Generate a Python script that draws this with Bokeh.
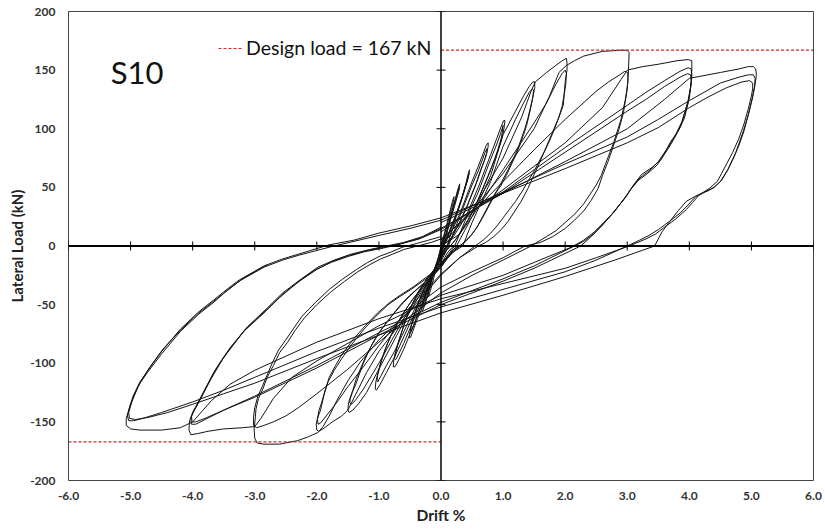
import math
from bokeh.plotting import figure
from bokeh.models import (Range1d, FixedTicker, NumeralTickFormatter, Span, Label,
                          Legend, LegendItem)
from bokeh.embed import file_html
from bokeh.resources import INLINE

# ---------------- data ----------------
x_ticks = [-6, -5, -4, -3, -2, -1, 0, 1, 2, 3, 4, 5, 6]
y_ticks = [-200, -150, -100, -50, 0, 50, 100, 150, 200]
design_load = 167
specimen = "S10"

# hysteresis paths (drift %, lateral load kN), one list per drift level
loop_500 = [(0,20),(1,45),(2,72),(3,100),(3.6,125),(4.0,143),(4.5,148),(4.8,151),(4.95,153),(5.03,153),(5.07,151),(5.08,146),(5.06,138),(5.02,127),(4.95,112),(4.87,98),(4.75,80),(4.62,65),(4.5,55),(4.4,50),(4.28,47),(4.15,43),(4.05,37),(3.95,31),(3.78,23),(3.6,16),(3.45,10),(3.3,6),(3.03,0),(2.5,-10),(2.0,-19),(1.0,-32),(0,-45),(-1,-62),(-2,-82),(-3,-106),(-3.4,-118),(-3.7,-132),(-4.0,-150),(-4.2,-155),(-4.5,-157),(-4.85,-157),(-5.0,-156),(-5.07,-153),
            (-5.07,-147),(-5.03,-140),(-4.95,-128),(-4.85,-117),(-4.73,-108),(-4.5,-92),(-4.2,-73),(-3.9,-58),(-3.66,-48),(-3.45,-38),(-3.25,-30),(-2.85,-18),(-2.55,-12),(-2.3,-8),(-1.8,-1),(-1.4,4),(-1.0,9),(-0.5,15),(0,22),
            (1,46),(2,70),(3,93),(3.5,108),(4,124),(4.5,139),(4.8,144),(4.95,146),(5.03,146),(5.06,143),(5.05,136),(5.01,125),(4.95,112),(4.88,98),(4.8,86),(4.72,76),(4.62,65),(4.52,56),(4.4,50),(4.3,47),(4.2,45),(4.1,42),(3.98,35),(3.85,28),(3.68,21),(3.5,14),(3.35,9),(3.2,5),(3.0,0),(2.5,-12),(2.0,-22),(1.0,-37),(0,-52),(-1,-70),(-2,-90),(-3,-112),(-3.5,-123),(-4,-133),(-4.5,-142),(-4.8,-147),(-4.95,-149),(-5.03,-149),(-5.05,-145),
            (-5.02,-138),(-4.96,-128),(-4.85,-116),(-4.72,-106),(-4.5,-90),(-4.2,-71),(-3.9,-56),(-3.66,-46),(-3.45,-37),(-3.25,-29),(-2.85,-17),(-2.55,-11),(-2.3,-7),(-1.8,1),(-1.4,5),(-1.0,11),(-0.5,17),(0,24),
            (1,45),(2,66),(3,88),(3.5,101),(4,118),(4.3,127),(4.6,135),(4.85,140),(4.97,141),(5.02,139),(5.02,134),(5.0,128),(4.95,117),(4.88,104),(4.8,92),(4.7,80),(4.6,70),(4.52,62),(4.45,55),(4.32,49),(4.2,45),(4.08,42),(3.95,38),(3.82,30),(3.7,22),(3.56,12),(3.44,0),(2.8,-12),(2.0,-26),(1.0,-42),(0,-57),(-1,-76),(-2,-96),(-3,-117),(-3.5,-126),(-4,-135),(-4.4,-142),(-4.7,-146),(-4.92,-148),(-5.02,-147),(-5.03,-142),
            (-4.98,-133),(-4.88,-120),(-4.7,-104),(-4.48,-88),(-4.2,-72),(-3.9,-57),(-3.66,-47),(-3.2,-28),(-2.8,-16)]

loop_400 = [(0,12),(1,48),(2,88),(2.6,118),(2.9,142),(3.0,150),(3.25,153),(3.5,155),(3.8,158),(3.98,159),(4.04,158),(4.04,150),(4.03,140),(4.0,126),(3.92,109),(3.82,98),(3.7,89),(3.55,74),(3.4,67),(3.23,61),(3.1,52),(3.0,44),(2.79,29),(2.62,20),(2.47,12),(2.3,5),(2.1,-1),(1.5,-14),(1.0,-25),(0,-42),(-1,-68),(-2,-98),(-2.4,-112),(-2.7,-130),(-2.9,-147),(-3.0,-154),(-3.2,-155),(-3.5,-156),(-3.75,-158),(-3.92,-160),(-4.03,-161),(-4.06,-157),
            (-4.05,-149),(-4.0,-142),(-3.95,-137),(-3.87,-129),(-3.76,-118),(-3.66,-108),(-3.55,-99),(-3.44,-91),(-3.18,-73),(-2.85,-57),(-2.6,-44),(-2.31,-31),(-2.05,-21),(-1.77,-14),(-1.5,-9),(-1.24,-5),(-0.95,-2),(-0.7,1),(-0.35,6),(0,14),
            (1,46),(2,84),(3,120),(3.3,131),(3.6,141),(3.85,149),(3.98,152),(4.03,151),(4.04,145),(4.03,138),(3.98,124),(3.88,106),(3.78,95),(3.68,86),(3.5,72),(3.35,64),(3.2,58),(3.08,50),(2.98,42),(2.75,27),(2.6,18),(2.45,10),(2.3,4),(2.15,0),(1.5,-17),(1.0,-28),(0,-48),(-1,-74),(-2,-102),(-3,-128),(-3.5,-140),(-3.8,-148),(-3.95,-152),(-4.02,-152),(-4.03,-147),
            (-3.99,-142),(-3.95,-138),(-3.85,-128),(-3.74,-116),(-3.64,-106),(-3.53,-97),(-3.42,-89),(-3.15,-71),(-2.82,-55),(-2.57,-42),(-2.28,-30),(-2.0,-20),(-1.75,-13),(-1.48,-8),(-1.2,-4),(-0.92,-1),(-0.65,2),(-0.32,7),(0,15),
            (1,45),(2,80),(3,115),(3.3,125),(3.6,136),(3.85,144),(3.97,147),(4.02,146),(4.03,141),(4.02,135),(3.97,120),(3.86,102),(3.76,92),(3.66,83),(3.48,69),(3.33,62),(3.18,56),(3.05,48),(2.95,40),(2.72,25),(2.57,16),(2.42,8),(2.25,0),(1.5,-19),(1.0,-30),(0,-50),(-1,-76),(-2,-104),(-3,-129),(-3.5,-140),(-3.8,-147),(-3.95,-150),(-4.01,-150),(-4.02,-145),
            (-3.98,-140),(-3.93,-136),(-3.82,-125),(-3.7,-113),(-3.6,-104),(-3.5,-95),(-3.4,-87),(-3.12,-69),(-2.8,-53),(-2.55,-40),(-2.25,-28),(-1.98,-18),(-1.72,-12),(-1.45,-7),(-1.15,-3),(-0.88,0),(-0.6,3),(-0.3,8),(0,16)]

loop_300 = [(0,5),(0.5,30),(1,62),(1.5,100),(1.75,128),(1.9,148),(2.02,154),(2.15,158),(2.3,162),(2.6,166),(2.9,167),(3.0,167),(3.03,165),(3.02,150),(3.0,134),(2.94,114),(2.87,100),(2.8,89),(2.69,72),(2.6,60),(2.53,49),(2.42,39),(2.3,30),(2.15,22),(2.0,15),(1.8,8),(1.6,3),(1.35,0),(1.0,-10),(0.5,-22),(0,-35),(-0.5,-55),(-1,-80),(-1.3,-99),(-1.5,-115),(-1.68,-132),(-1.8,-145),(-1.9,-154),(-1.98,-159),(-2.15,-163),(-2.31,-166),(-2.6,-169),(-2.85,-169),(-2.96,-168),(-3.0,-164),(-3.01,-156),
            (-2.99,-146),(-2.98,-139),(-2.94,-130),(-2.87,-122),(-2.8,-112),(-2.7,-102),(-2.6,-91),(-2.47,-82),(-2.35,-72),(-2.21,-62),(-2.0,-50),(-1.77,-39),(-1.55,-30),(-1.34,-22),(-1.15,-16),(-0.97,-11),(-0.78,-7),(-0.6,-3),(-0.38,0),(-0.16,3),(0,6),
            (0.5,28),(1,55),(1.5,82),(2,108),(2.5,132),(2.7,140),(2.85,145),(2.96,149),(3.01,148),(3.01,140),(2.99,132),(2.97,125),(2.9,108),(2.78,88),(2.65,70),(2.58,60),(2.5,52),(2.3,36),(2.15,27),(2.0,20),(1.85,13),(1.7,8),(1.45,0),(1.0,-12),(0.5,-25),(0,-40),(-0.5,-60),(-1,-82),(-1.5,-105),(-2,-126),(-2.3,-138),(-2.5,-145),(-2.7,-150),(-2.85,-153),(-2.97,-155),(-3.02,-153),(-3.02,-146),
            (-3.0,-138),(-2.95,-128),(-2.88,-120),(-2.8,-110),(-2.72,-100),(-2.62,-89),(-2.5,-80),(-2.37,-70),(-2.24,-60),(-2.02,-48),(-1.8,-37),(-1.58,-28),(-1.36,-20),(-1.18,-14),(-1.0,-9),(-0.8,-5),(-0.62,-1),(-0.4,2),(-0.2,5),(0,8)]

loop_200 = [(0,0),(0.5,30),(1.0,75),(1.3,110),(1.45,132),(1.52,140),(1.7,148),(1.9,156),(1.98,159),(2.02,160),(2.03,156),(2.03,150),(2.0,140),(1.97,120),(1.9,110),(1.82,100),(1.74,90),(1.66,80),(1.58,70),(1.5,61),(1.4,49),(1.29,38),(1.18,29),(1.08,21),(0.97,14),(0.85,8),(0.72,3),(0.6,0),(0.3,-10),(0,-25),(-0.5,-55),(-1.0,-90),(-1.2,-108),(-1.35,-124),(-1.5,-140),(-1.6,-145),(-1.75,-150),(-1.9,-156),(-1.97,-158),(-2.0,-157),(-2.01,-152),
            (-1.99,-147),(-1.94,-140),(-1.88,-126),(-1.82,-116),(-1.72,-106),(-1.61,-97),(-1.44,-84),(-1.24,-71),(-1.05,-60),(-0.85,-50),(-0.66,-43),(-0.48,-37),(-0.32,-31),(-0.16,-25),(0,-18),(0.12,-9),(0.25,0),
            (0.5,25),(1.0,65),(1.5,105),(1.7,122),(1.85,138),(1.95,147),(2.0,150),(2.02,147),(2.01,138),(1.98,128),(1.95,119),(1.9,110),(1.83,100),(1.75,90),(1.67,81),(1.58,72),(1.49,63),(1.4,55),(1.3,46),(1.2,38),(1.1,31),(1.0,24),(0.9,17),(0.8,11),(0.68,5),(0.55,0),(0.3,-10),(0,-24),(-0.5,-52),(-1.0,-85),(-1.25,-103),(-1.5,-120),(-1.7,-135),(-1.85,-145),(-1.94,-151),(-1.98,-152),(-1.99,-148),
            (-1.97,-141),(-1.92,-133),(-1.86,-122),(-1.8,-112),(-1.7,-102),(-1.6,-93),(-1.42,-80),(-1.22,-68),(-1.02,-57),(-0.82,-48),(-0.63,-41),(-0.45,-35),(-0.3,-29),(-0.14,-23),(0,-16),(0.15,-7),(0.3,0)]

loop_150 = [(0,0),(0.3,10),(0.5,25),(0.8,60),(1.0,95),(1.2,115),(1.33,128),(1.42,136),(1.48,140),(1.51,140),(1.51,135),(1.48,127),(1.44,118),(1.4,109),(1.35,100),(1.29,91),(1.23,82),(1.16,74),(1.08,65),(1.0,57),(0.93,50),(0.85,43),(0.75,33),(0.65,23),(0.57,15),(0.48,9),(0.39,4),(0.3,0),(0,-15),(-0.3,-38),(-0.6,-65),(-1.0,-105),(-1.2,-125),(-1.32,-134),(-1.42,-140),(-1.48,-142),(-1.5,-140),
            (-1.49,-134),(-1.46,-129),(-1.42,-123),(-1.37,-114),(-1.3,-105),(-1.21,-94),(-1.1,-83),(-0.96,-71),(-0.8,-60),(-0.65,-50),(-0.5,-42),(-0.35,-35),(-0.2,-28),(-0.1,-23),(0,-18),(0.1,-11),(0.2,-5),(0.35,0),
            (0.5,20),(0.8,55),(1.0,85),(1.2,108),(1.33,122),(1.42,131),(1.47,134),(1.49,133),(1.48,127),(1.45,119),(1.42,112),(1.38,103),(1.33,95),(1.27,86),(1.2,77),(1.13,69),(1.05,60),(0.97,52),(0.88,45),(0.78,35),(0.68,25),(0.59,17),(0.5,10),(0.4,4),(0.3,0),(0,-14),(-0.3,-36),(-0.6,-62),(-1.0,-100),(-1.25,-122),(-1.37,-131),(-1.44,-135),(-1.47,-134),
            (-1.46,-130),(-1.43,-125),(-1.38,-119),(-1.32,-110),(-1.25,-100),(-1.16,-89),(-1.05,-78),(-0.9,-67),(-0.75,-57),(-0.6,-48),(-0.45,-40),(-0.3,-33),(-0.15,-26),(0,-16),(0.1,-9),(0.2,-3),(0.3,0)]

loop_100 = [(0,0),(0.2,8),(0.4,25),(0.6,50),(0.8,78),(0.9,92),(0.97,102),(1.01,107),(1.03,107),(1.02,102),(1.0,96),(0.96,88),(0.91,80),(0.85,72),(0.78,62),(0.7,52),(0.62,42),(0.55,33),(0.45,23),(0.35,15),(0.27,8),(0.2,3),(0.1,-3),(0,-10),(-0.25,-38),(-0.5,-66),(-0.75,-95),(-0.88,-108),(-0.98,-118),(-1.04,-123),(-1.06,-122),
            (-1.05,-116),(-1.02,-109),(-0.98,-101),(-0.9,-88),(-0.81,-77),(-0.7,-66),(-0.58,-55),(-0.45,-45),(-0.32,-37),(-0.2,-30),(-0.1,-24),(0,-18),(0.07,-11),(0.12,-7),(0.22,0),
            (0.4,23),(0.6,46),(0.8,74),(0.9,87),(0.96,96),(0.99,101),(1.0,103),(0.99,98),(0.97,92),(0.92,83),(0.87,75),(0.82,68),(0.75,59),(0.68,50),(0.6,40),(0.52,31),(0.43,22),(0.34,14),(0.26,7),(0.18,2),(0,-9),(-0.25,-36),(-0.5,-62),(-0.75,-90),(-0.88,-102),(-0.97,-111),(-1.02,-116),(-1.03,-115),
            (-1.02,-110),(-0.99,-104),(-0.96,-98),(-0.86,-83),(-0.77,-72),(-0.66,-62),(-0.54,-52),(-0.42,-43),(-0.3,-35),(-0.18,-28),(-0.08,-22),(0,-16),(0.1,-6),(0.2,0)]

loop_075 = [(0,0),(0.15,10),(0.3,27),(0.5,55),(0.6,68),(0.68,79),(0.73,86),(0.76,88),(0.76,85),(0.74,80),(0.7,73),(0.65,66),(0.6,58),(0.53,48),(0.45,38),(0.38,29),(0.3,20),(0.22,12),(0.15,5),(0.05,-3),(0,-8),(-0.2,-35),(-0.4,-62),(-0.6,-88),(-0.68,-97),(-0.74,-103),(-0.77,-103),
            (-0.76,-97),(-0.73,-91),(-0.7,-85),(-0.63,-73),(-0.55,-60),(-0.45,-48),(-0.35,-38),(-0.22,-28),(-0.1,-20),(0,-13),(0.05,-8),(0.12,0),
            (0.3,25),(0.5,52),(0.6,64),(0.67,74),(0.71,80),(0.74,83),(0.74,80),(0.72,76),(0.67,69),(0.62,62),(0.57,54),(0.5,45),(0.43,35),(0.35,26),(0.28,18),(0.2,10),(0.14,4),(0,-8),(-0.2,-33),(-0.4,-58),(-0.6,-83),(-0.68,-92),(-0.73,-97),(-0.75,-96),
            (-0.74,-92),(-0.71,-86),(-0.67,-79),(-0.6,-68),(-0.52,-57),(-0.43,-46),(-0.33,-36),(-0.2,-26),(-0.08,-18),(0.05,-6),(0.1,0)]

loop_045 = [(0,0),(0.1,8),(0.25,28),(0.34,42),(0.4,53),(0.44,62),(0.46,65),(0.45,61),(0.42,56),(0.37,47),(0.3,35),(0.25,27),(0.2,20),(0.15,13),(0.1,6),(0,-5),(-0.15,-28),(-0.3,-52),(-0.38,-62),(-0.45,-72),(-0.49,-78),(-0.51,-78),
            (-0.5,-73),(-0.47,-66),(-0.42,-57),(-0.36,-48),(-0.3,-40),(-0.2,-30),(-0.1,-20),(0,-11),(0.05,-5),(0.1,0),
            (0.25,26),(0.33,39),(0.39,50),(0.43,58),(0.45,62),(0.44,58),(0.41,53),(0.37,46),(0.32,38),(0.28,32),(0.23,25),(0.18,18),(0.13,11),(0.08,5),(0,-5),(-0.15,-27),(-0.3,-49),(-0.38,-59),(-0.44,-68),(-0.48,-73),(-0.49,-72),
            (-0.48,-68),(-0.45,-62),(-0.4,-54),(-0.34,-45),(-0.28,-37),(-0.18,-27),(-0.08,-18),(0,-10),(0.04,-4),(0.08,0)]

loop_030 = [(0,0),(0.08,10),(0.15,25),(0.22,38),(0.27,48),(0.3,53),(0.3,50),(0.28,46),(0.25,41),(0.21,34),(0.17,26),(0.13,18),(0.09,11),(0.05,5),(0,-3),(-0.1,-20),(-0.2,-40),(-0.26,-50),(-0.3,-56),(-0.31,-54),
            (-0.3,-50),(-0.27,-44),(-0.24,-39),(-0.18,-30),(-0.12,-22),(-0.06,-14),(0,-8),(0.05,0),
            (0.15,24),(0.21,36),(0.26,45),(0.29,50),(0.29,48),(0.27,44),(0.24,38),(0.2,31),(0.16,24),(0.12,17),(0.08,10),(0.05,5),(0,-3),(-0.1,-19),(-0.2,-38),(-0.25,-47),(-0.28,-52),(-0.29,-51),
            (-0.28,-47),(-0.25,-42),(-0.22,-37),(-0.16,-28),(-0.11,-20),(-0.05,-13),(0,-7),(0.04,0)]

loop_020 = [(0,0),(0.1,20),(0.16,33),(0.2,41),(0.21,42),(0.2,38),(0.17,32),(0.13,24),(0.08,14),(0.04,6),(0,0),(-0.06,-14),(-0.12,-28),(-0.17,-38),(-0.2,-43),(-0.21,-42),(-0.2,-38),(-0.17,-33),(-0.13,-25),(-0.08,-17),(-0.03,-9),(0.02,0)]

loops = [loop_020, loop_030, loop_045, loop_075, loop_100, loop_150,
         loop_200, loop_300, loop_400, loop_500]

# ---------------- figure ----------------
FONT = "Lato"
p = figure(width=825, height=529, x_range=Range1d(x_ticks[0], x_ticks[-1]),
           y_range=Range1d(y_ticks[0], y_ticks[-1]),
           output_backend="svg", toolbar_location=None,
           min_border_left=68, min_border_right=12, min_border_top=11, min_border_bottom=49)
p.grid.visible = False
p.background_fill_color = "white"
p.border_fill_color = "white"
p.outline_line_color = "#444444"
p.outline_line_width = 1

for ax in (p.xaxis[0], p.yaxis[0]):
    ax.axis_line_color = None
    ax.major_tick_line_color = None
    ax.minor_tick_line_color = None
    ax.major_tick_in = 0
    ax.major_tick_out = 0
    ax.major_label_text_font = FONT
    ax.major_label_text_font_style = "bold"
    ax.major_label_text_font_size = "12px"
    ax.major_label_text_color = "#333333"
    ax.axis_label_text_font = FONT
    ax.axis_label_text_font_style = "bold"
    ax.axis_label_text_color = "#222222"

p.xaxis.ticker = FixedTicker(ticks=x_ticks)
p.xaxis.formatter = NumeralTickFormatter(format="0.0")
p.xaxis.major_label_standoff = 11
p.xaxis.axis_label = "Drift %"
p.xaxis.axis_label_text_font_size = "15.5px"
p.xaxis.axis_label_standoff = 3

p.yaxis.ticker = FixedTicker(ticks=y_ticks)
p.yaxis.formatter = NumeralTickFormatter(format="0")
p.yaxis.major_label_standoff = 13
p.yaxis.axis_label = "Lateral Load (kN)"
p.yaxis.axis_label_text_font_size = "15px"
p.yaxis.axis_label_standoff = 1

# zero axes with tick marks
p.add_layout(Span(location=0, dimension="width", line_color="black", line_width=2))
p.add_layout(Span(location=0, dimension="height", line_color="black", line_width=1.5))
p.scatter(x=x_ticks, y=[0] * len(x_ticks), marker="dash", size=9, angle=math.pi / 2,
          line_color="black", line_width=1)
p.scatter(x=[0] * len(y_ticks), y=y_ticks, marker="dash", size=9,
          line_color="black", line_width=1)

# hysteresis curves
p.multi_line(xs=[[pt[0] for pt in lp] for lp in loops],
             ys=[[pt[1] for pt in lp] for lp in loops],
             line_color="#151515", line_width=1, line_join="round")

# design load lines
r_dl = p.line(x=[0, x_ticks[-1]], y=[design_load, design_load],
              line_color="#d42a2a", line_dash="3 2", line_width=1.2)
p.line(x=[x_ticks[0], 0], y=[-design_load, -design_load],
       line_color="#d42a2a", line_dash="3 2", line_width=1.2)

legend = Legend(items=[LegendItem(label="Design load = %d kN" % design_load, renderers=[r_dl])],
                location=(150, 421), padding=0, margin=0, glyph_width=25, glyph_height=20,
                label_standoff=3, background_fill_alpha=0, border_line_alpha=0,
                label_text_font=FONT, label_text_font_size="19.5px", label_text_color="#111111")
p.add_layout(legend)

p.add_layout(Label(x=-5.32, y=148, text=specimen, text_font=FONT, text_font_size="31px",
                   text_color="#111111", text_baseline="alphabetic"))

open("out.html", "w").write(file_html(p, INLINE))
